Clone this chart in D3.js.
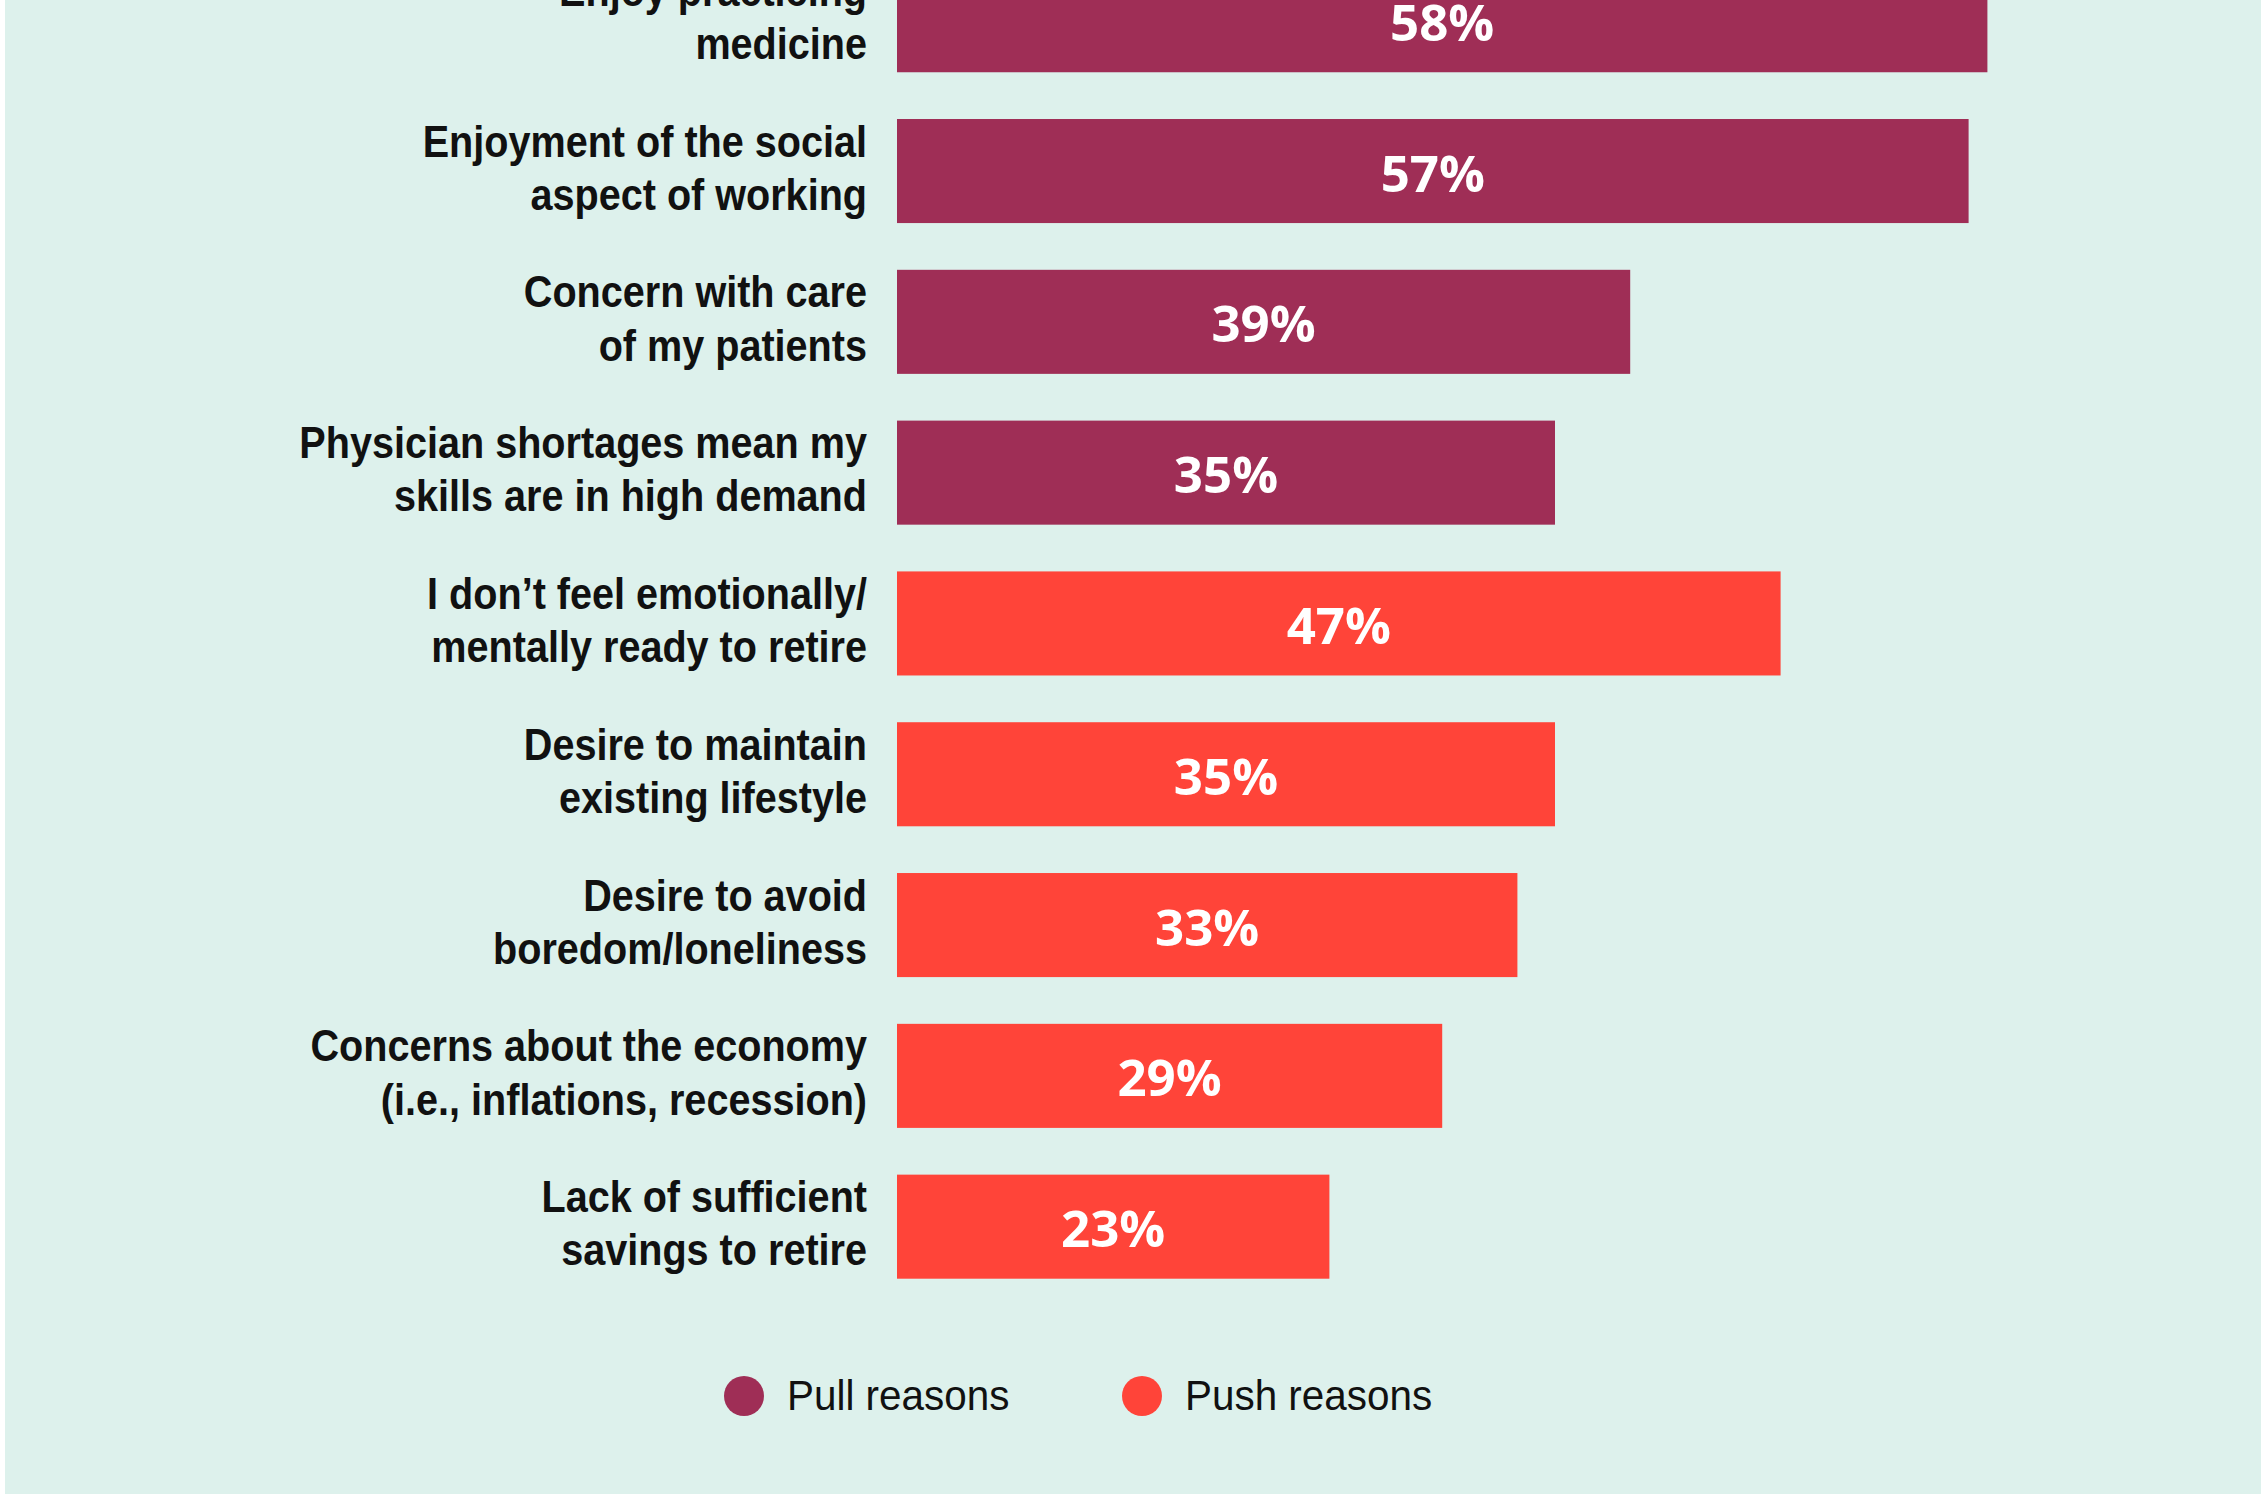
<!DOCTYPE html>
<html>
<head>
<meta charset="utf-8">
<script src="https://cdn.jsdelivr.net/npm/d3@7"></script>
<style>
  html, body { margin: 0; padding: 0; background: #ffffff; }
  svg { display: block; }
</style>
</head>
<body>
<svg id="chart" width="2261" height="1494"></svg>
<script>
// Reasons physicians keep working, share of respondents (%)
const categories = [
  ["Enjoy practicing", "medicine"],
  ["Enjoyment of the social", "aspect of working"],
  ["Concern with care", "of my patients"],
  ["Physician shortages mean my", "skills are in high demand"],
  ["I don\u2019t feel emotionally/", "mentally ready to retire"],
  ["Desire to maintain", "existing lifestyle"],
  ["Desire to avoid", "boredom/loneliness"],
  ["Concerns about the economy", "(i.e., inflations, recession)"],
  ["Lack of sufficient", "savings to retire"]
];
const values = [58, 57, 39, 35, 47, 35, 33, 29, 23];
const groups = ["pull", "pull", "pull", "pull", "push", "push", "push", "push", "push"];
const legendLabels = ["Pull reasons", "Push reasons"];
const legendKeys = ["pull", "push"];

const W = 2261, H = 1494;
const colour = d3.scaleOrdinal().domain(legendKeys).range(["#9f2e56", "#ff4439"]);

const svg = d3.select("#chart");

// panel background with a thin white margin on the left
svg.append("rect").attr("x", 5).attr("y", 0).attr("width", W - 5).attr("height", H).attr("fill", "#ddf1ec");

const x = d3.scaleLinear().domain([0, 100]).range([897, 2777]);
const y = d3.scaleBand()
  .domain(d3.range(values.length))
  .range([-31.8, 1278.7])
  .paddingInner(0.31)
  .paddingOuter(0);

const rows = svg.append("g").selectAll("g")
  .data(values.map((v, i) => ({ v, i, g: groups[i], lines: categories[i] })))
  .join("g");

rows.append("rect")
  .attr("x", x(0))
  .attr("y", d => y(d.i))
  .attr("width", d => x(d.v) - x(0))
  .attr("height", y.bandwidth())
  .attr("fill", d => colour(d.g));

rows.append("text")
  .attr("x", d => (x(0) + x(d.v)) / 2)
  .attr("y", d => y(d.i) + y.bandwidth() / 2 + 20.5)
  .attr("text-anchor", "middle")
  .attr("fill", "#ffffff")
  .style("font-family", "'Open Sans', sans-serif")
  .style("font-weight", 700)
  .style("font-size", "51px")
  .text(d => d.v + "%");

// category labels: bold, set slightly condensed, right-aligned against the bars
const lab = rows.append("text")
  .attr("transform", "translate(867,0) scale(0.9,1)")
  .attr("text-anchor", "end")
  .attr("fill", "#111111")
  .style("font-family", "'Liberation Sans', Arial, sans-serif")
  .style("font-weight", 700)
  .style("font-size", "44px");

lab.selectAll("tspan")
  .data(d => d.lines.map((t, k) => ({ t, k, d })))
  .join("tspan")
  .attr("x", 0)
  .attr("y", e => y(e.d.i) + y.bandwidth() / 2 - 14.5 + e.k * 53.3)
  .text(e => e.t);

// legend
const legend = svg.append("g").selectAll("g")
  .data(legendKeys.map((k, i) => ({ k, label: legendLabels[i], cx: [744, 1142][i] })))
  .join("g");

legend.append("circle")
  .attr("cx", d => d.cx)
  .attr("cy", 1396)
  .attr("r", 20)
  .attr("fill", d => colour(d.k));

legend.append("text")
  .attr("transform", d => `translate(${d.cx + 43},1410) scale(0.94,1)`)
  .attr("fill", "#111111")
  .style("font-family", "'Liberation Sans', Arial, sans-serif")
  .style("font-weight", 400)
  .style("font-size", "43px")
  .text(d => d.label);
</script>
</body>
</html>
